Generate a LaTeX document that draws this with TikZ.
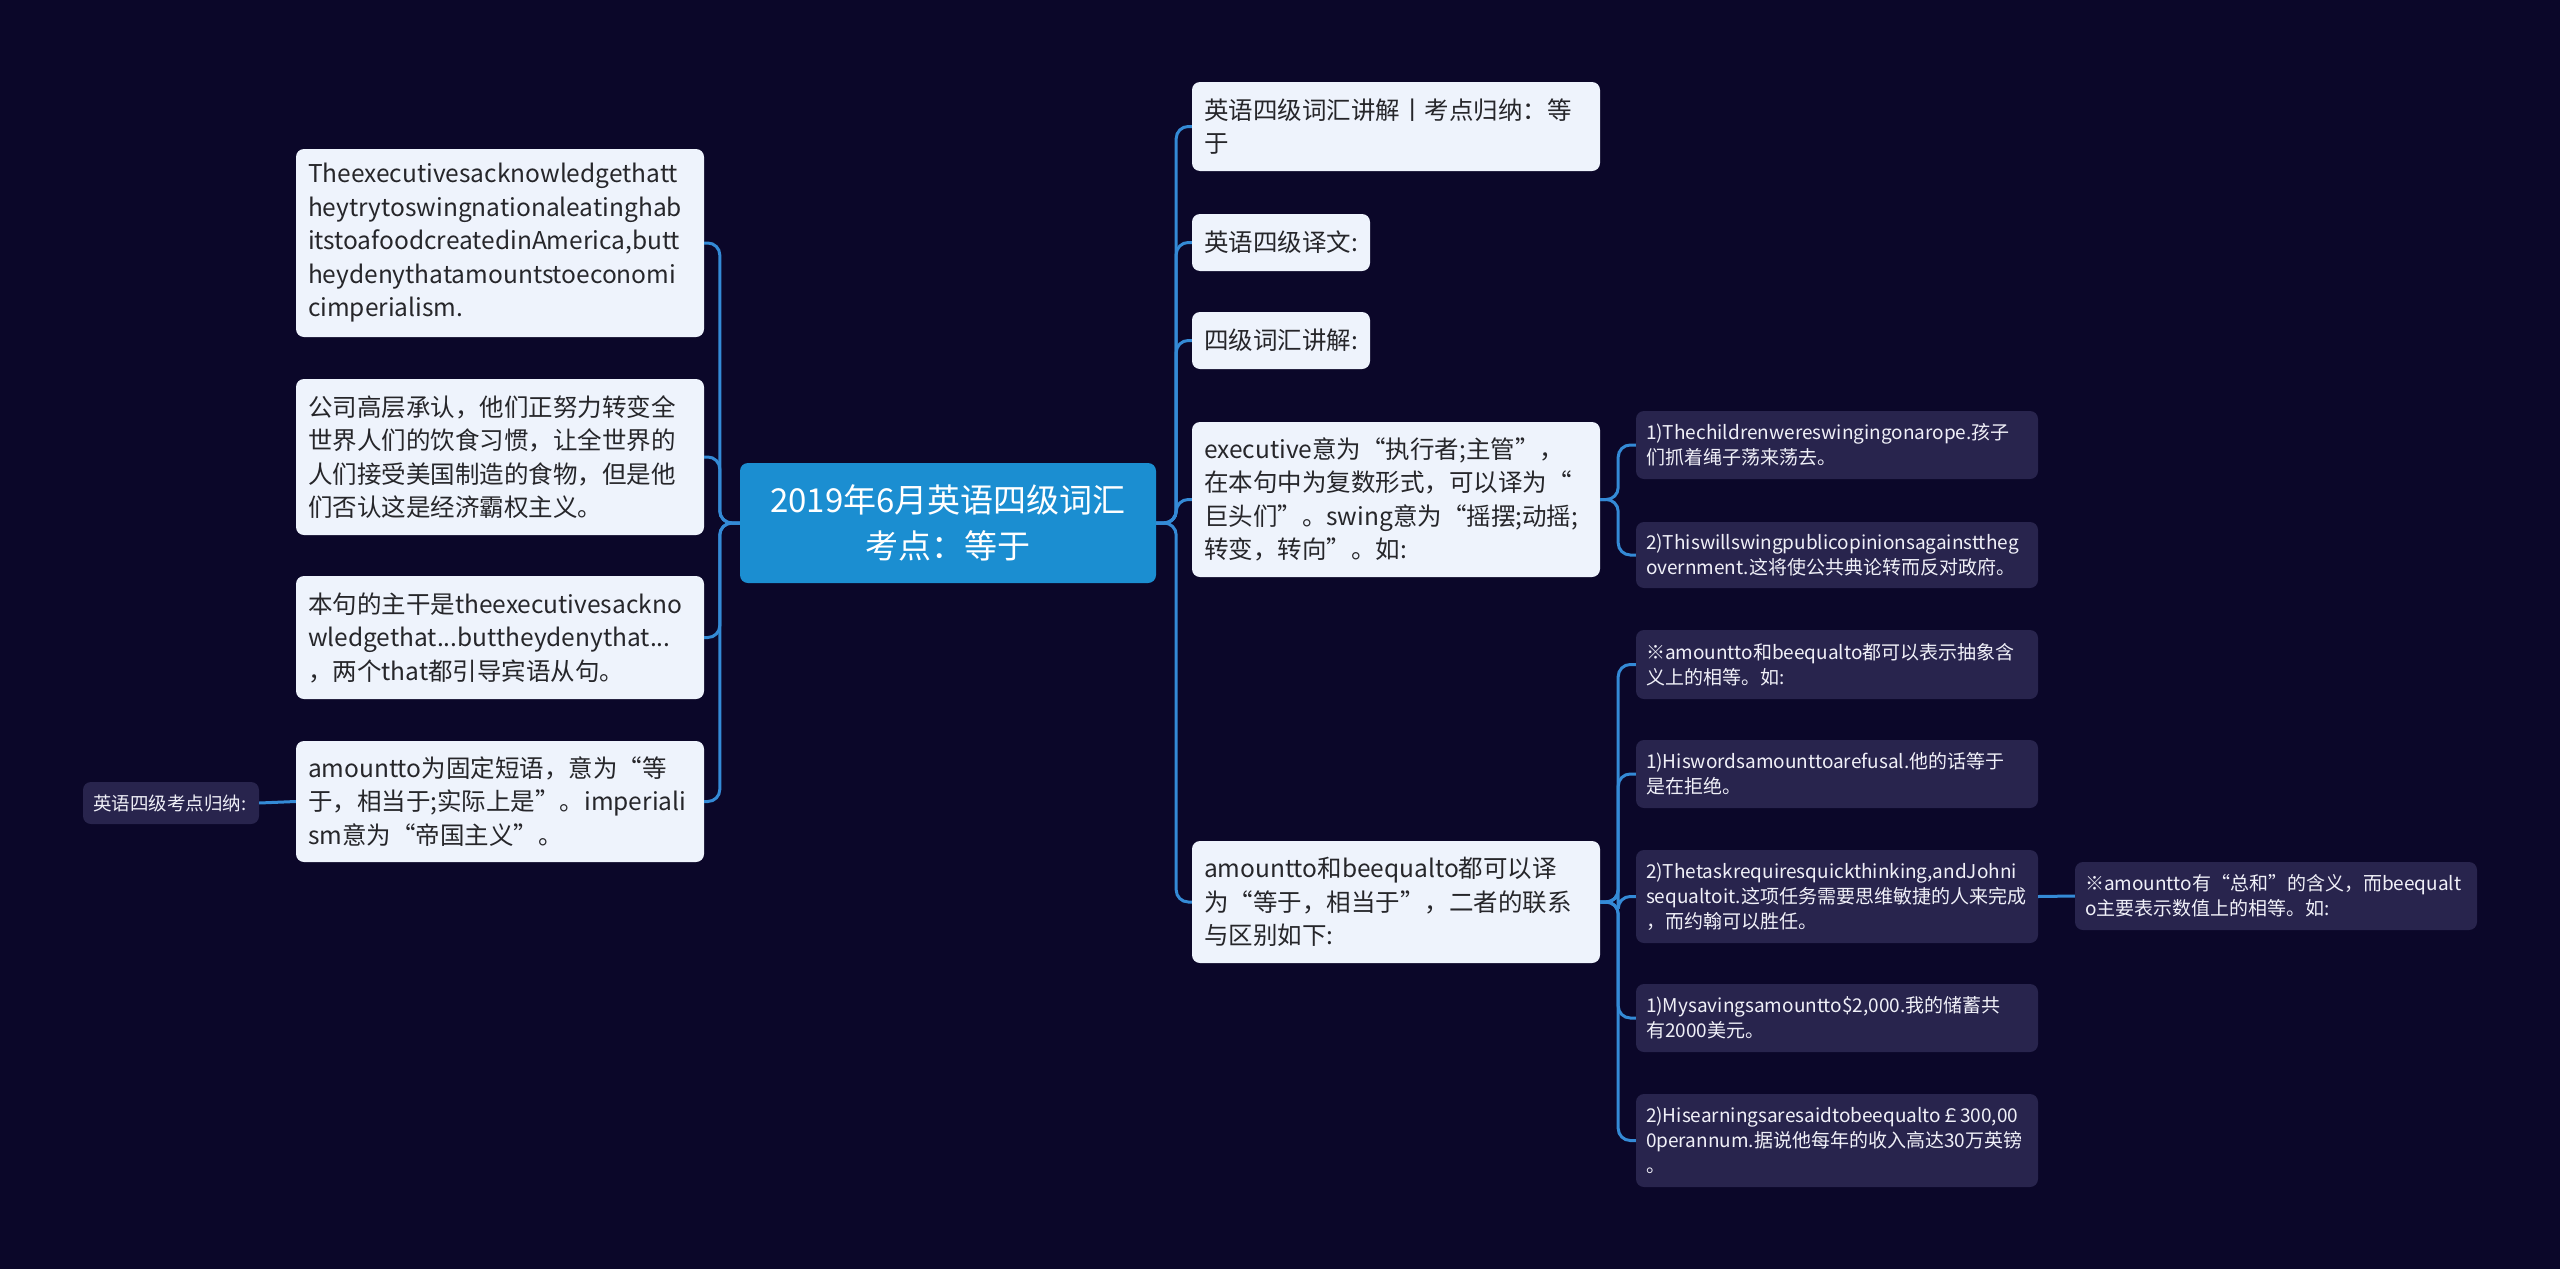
\documentclass[tikz,border=0pt]{standalone}
\usepackage{fontspec}
\setmainfont{Noto Sans CJK SC}
\definecolor{bgcol}{RGB}{11,7,41}
\definecolor{rootcol}{RGB}{27,142,209}
\definecolor{leafcol}{RGB}{238,243,252}
\definecolor{leaftext}{RGB}{38,38,42}
\definecolor{subcol}{RGB}{40,36,77}
\definecolor{subtext}{RGB}{240,240,248}
\definecolor{linkcol}{RGB}{52,138,214}
\begin{document}
\begin{tikzpicture}[x=1pt,y=-1pt,
  box/.style={rounded corners=8pt, inner xsep=12pt, inner ysep=0pt, align=left, anchor=center},
  leaf/.style={box, fill=leafcol, text=leaftext, font=\fontsize{24.5}{33.5}\selectfont},
  rootbox/.style={box, fill=rootcol, text=white, align=center, font=\fontsize{33}{46}\selectfont},
  sub/.style={box, fill=subcol, text=subtext, inner xsep=10pt, font=\fontsize{19}{25}\selectfont},
  link/.style={draw=linkcol, line width=3pt, rounded corners=12pt}]
\fill[bgcol] (0,0) rectangle (2560,1269);
\useasboundingbox (0,0) rectangle (2560,1269);

\node[rootbox, text width=392pt, minimum height=120pt] (root) at (948,523) {2019年6月英语四级词汇\\考点：等于};

\node[leaf, text width=384pt, minimum height=188pt] (l1) at (500,243) {Theexecutivesacknowledgethatt\\heytrytoswingnationaleatinghab\\itstoafoodcreatedinAmerica,butt\\heydenythatamountstoeconomi\\cimperialism.};
\node[leaf, text width=384pt, minimum height=156pt] (l2) at (500,457) {公司高层承认，他们正努力转变全\\世界人们的饮食习惯，让全世界的\\人们接受美国制造的食物，但是他\\们否认这是经济霸权主义。};
\node[leaf, text width=384pt, minimum height=123pt] (l3) at (500,637.5) {本句的主干是theexecutivesackno\\wledgethat...buttheydenythat...\\，两个that都引导宾语从句。};
\node[leaf, text width=384pt, minimum height=121pt] (l4) at (500,801.5) {amountto为固定短语，意为“等\\于，相当于;实际上是”。imperiali\\sm意为“帝国主义”。};
\node[sub, text width=156pt, minimum height=42pt, font=\fontsize{18.5}{24}\selectfont] (fl) at (171,803) {英语四级考点归纳:};

\node[leaf, text width=384pt, minimum height=89pt] (r1) at (1396,126.5) {英语四级词汇讲解丨考点归纳：等\\于};
\node[leaf, text width=154pt, minimum height=57pt] (r2) at (1281,242.5) {英语四级译文:};
\node[leaf, text width=154pt, minimum height=57pt] (r3) at (1281,340.5) {四级词汇讲解:};
\node[leaf, text width=384pt, minimum height=155pt] (r4) at (1396,499.5) {executive意为“执行者;主管”，\\在本句中为复数形式，可以译为“\\巨头们”。swing意为“摇摆;动摇;\\转变，转向”。如:};
\node[leaf, text width=384pt, minimum height=122pt] (r5) at (1396,902) {amountto和beequalto都可以译\\为“等于，相当于”，二者的联系\\与区别如下:};

\node[sub, text width=382pt, minimum height=68pt] (s1) at (1837,445) {1)Thechildrenwereswingingonarope.孩子\\们抓着绳子荡来荡去。};
\node[sub, text width=382pt, minimum height=66pt] (s2) at (1837,555) {2)Thiswillswingpublicopinionsagainsttheg\\overnment.这将使公共典论转而反对政府。};
\node[sub, text width=382pt, minimum height=69pt] (s3) at (1837,664.5) {※amountto和beequalto都可以表示抽象含\\义上的相等。如:};
\node[sub, text width=382pt, minimum height=68pt] (s4) at (1837,774) {1)Hiswordsamounttoarefusal.他的话等于\\是在拒绝。};
\node[sub, text width=382pt, minimum height=93pt] (s5) at (1837,896.5) {2)Thetaskrequiresquickthinking,andJohni\\sequaltoit.这项任务需要思维敏捷的人来完成\\，而约翰可以胜任。};
\node[sub, text width=382pt, minimum height=68pt] (s6) at (1837,1018) {1)Mysavingsamountto\$2,000.我的储蓄共\\有2000美元。};
\node[sub, text width=382pt, minimum height=93pt] (s7) at (1837,1140.5) {2)Hisearningsaresaidtobeequalto￡300,00\\0perannum.据说他每年的收入高达30万英镑\\。};
\node[sub, text width=382pt, minimum height=68pt] (ss) at (2276,896) {※amountto有“总和”的含义，而beequalt\\o主要表示数值上的相等。如:};

\foreach \n in {r1,r2,r3,r4,r5} \draw[link] (root.east) -- ++(20,0) |- (\n.west);
\foreach \n in {l1,l2,l3,l4} \draw[link] (root.west) -- ++(-20,0) |- (\n.east);
\foreach \n in {s1,s2} \draw[link] (r4.east) -- ++(18,0) |- (\n.west);
\foreach \n in {s3,s4,s5,s6,s7} \draw[link] (r5.east) -- ++(18,0) |- (\n.west);
\draw[link] (s5.east) -- (ss.west);
\draw[link] (l4.west) -- (fl.east);
\end{tikzpicture}
\end{document}
